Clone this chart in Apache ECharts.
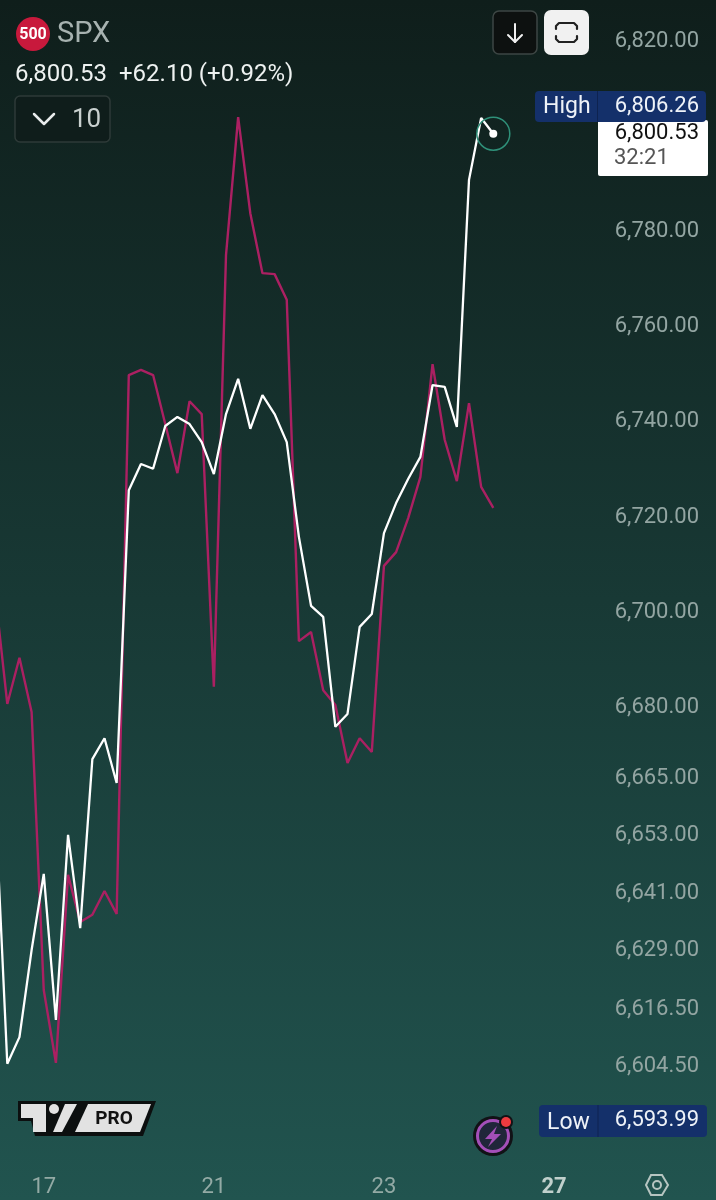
<!DOCTYPE html>
<html><head><meta charset="utf-8">
<style>html,body{margin:0;padding:0;background:#0f1f1c}#c{width:716px;height:1200px}</style>
<script src="https://cdn.jsdelivr.net/npm/echarts@6/dist/echarts.min.js"></script>
</head><body><div id="c"></div>
<script>
const seriesMagenta = [6703.5,6680.2,6689.9,6678.5,6620.1,6604.8,6644.3,6634.4,6635.9,6640.9,6636.1,6749.3,6750.4,6749.3,6739,6728.7,6743.8,6741.1,6683.8,6774.5,6803.5,6783.3,6770.7,6770.5,6765.1,6693.4,6695.3,6683.1,6680,6667.8,6673,6670.1,6709.2,6712.1,6719.3,6727.9,6751.6,6735.7,6727,6743.4,6725.8,6721.4];
const seriesWhite = [6660,6604.6,6610.2,6628.5,6644.5,6613.8,6652.7,6633.1,6668.6,6673,6663.6,6725.1,6730.6,6729.6,6738.6,6740.5,6739,6735.2,6728.5,6741.1,6748.5,6738,6745.1,6741.1,6735.2,6715.3,6700.8,6698.5,6675.4,6678.1,6696.4,6699.1,6716.1,6722.4,6727.5,6732.1,6747.2,6746.8,6738.4,6790.3,6803.3,6800];
const yTicks = [6820,6780,6760,6740,6720,6700,6680,6665,6653,6641,6629,6616.5,6604.5];
const dayLabels = {4:'17',18:'21',32:'23',46:'27'};
const categoryCount = 60;
const categories = Array.from({length:categoryCount},(_,i)=>dayLabels[i]||'');
const lastIdx = seriesWhite.length-1;
const FONT = 'Roboto, sans-serif';
const fg = (t,x,y,size,color,extra)=>({type:'text',z:100,style:Object.assign({text:t,x:x,y:y,font:`${size}px ${FONT}`,fill:color,textVerticalAlign:'middle'},extra||{})});
const rect=(x,y,w,h,r,fill,stroke)=>({type:'rect',z:90,shape:{x,y,width:w,height:h,r},style:{fill,stroke:stroke||null,lineWidth:stroke?1.5:0}});
const poly=(points,fill,z)=>({type:'polygon',z:z||91,shape:{points},style:{fill}});
const pl=(points,stroke,w)=>({type:'polyline',z:95,shape:{points},style:{stroke,lineWidth:w,fill:null,lineCap:'round',lineJoin:'round'}});
const circ=(cx,cy,r,fill,stroke,w)=>({type:'circle',z:92,shape:{cx,cy,r},style:{fill,stroke:stroke||null,lineWidth:w||0}});
const graphics=[
  circ(33,34,17,'#c8193c'),
  fg('500',33,35,16,'#fff',{textAlign:'center',font:`bold 16px ${FONT}`}),
  fg('SPX',57,35,29,'#a7b2b0'),
  fg('6,800.53',15,75,24,'#eef2f1'),
  fg('+62.10 (+0.92%)',119,75,24,'#eef2f1'),
  rect(15,96,95,46,5,'#0f1d1b','#2e3a38'),
  pl([[34,114],[44,124],[54,114]],'#e8ecec',2.5),
  fg('10',72,120,26,'#c9d0cf'),
  rect(493,11,44,43,6,'#0d1110','#3d4644'),
  pl([[515,24],[515,42]],'#f0f0f0',2),
  pl([[508,35],[515,42],[522,35]],'#f0f0f0',2),
  rect(544,10,45,45,7,'#f1f1f1'),
  pl([[556,29],[556,26],[559,23],[574,23],[577,26],[577,29]],'#222',2.2),
  pl([[556,36],[556,39],[559,42],[574,42],[577,39],[577,36]],'#222',2.2),
  rect(598,120,110,56,2,'#ffffff'),
  rect(535,91,171,31,4,'#14306a'),
  {type:'line',z:93,shape:{x1:597.5,y1:91,x2:597.5,y2:122},style:{stroke:'#0e2350',lineWidth:1}},
  fg('High',543,107,23,'#eef2f8'),
  fg('6,806.26',699,106,22,'#eef2f8',{textAlign:'right'}),
  fg('6,800.53',699,133,22,'#111',{textAlign:'right'}),
  fg('32:21',614,158,22,'#555',{}),
  rect(539,1105,168,32,4,'#14306a'),
  {type:'line',z:93,shape:{x1:598,y1:1105,x2:598,y2:1137},style:{stroke:'#0e2350',lineWidth:1}},
  fg('Low',547,1123,23,'#eef2f8'),
  fg('6,593.99',699,1120,22,'#eef2f8',{textAlign:'right'}),
  // TradingView PRO badge
  poly([[18,1101],[156,1101],[143,1136],[35,1136],[31,1121],[18,1121]],'#0c0f0f'),
  poly([[21,1104],[46,1104],[46,1132],[33,1132],[33,1118],[21,1118]],'#e2e2e2',92),
  circ(54,1109,5,'#e2e2e2'),
  poly([[65,1104],[77,1104],[62,1132],[53,1132]],'#e2e2e2',92),
  poly([[88,1104],[151,1104],[140,1132],[75,1132]],'#e2e2e2',92),
  fg('PRO',114,1119,19,'#111',{textAlign:'center',font:`bold 19px ${FONT}`}),
  // bolt badge
  circ(493,1136,20,'#111216'),
  circ(493,1136,15.5,'#20263a','#a44fb8',3),
  poly([[497,1126],[485,1139],[492,1139],[488,1147],[501,1134],[494,1134]],'#a44fb8',93),
  circ(506,1122,7,'#111216'),
  circ(506,1122,5,'#ee3b3f'),
  // settings
  {type:'polygon',z:92,shape:{points:[[646,1185],[651,1175],[662,1175],[668,1185],[662,1195],[651,1195]]},style:{fill:null,stroke:'#b6c5c1',lineWidth:2}},
  circ(657,1185,4,null,'#b6c5c1',2)
];
const chart = echarts.init(document.getElementById('c'),null,{renderer:'canvas'});
chart.setOption({
  animation:false,
  backgroundColor:new echarts.graphic.LinearGradient(0,0,0,1,[
    {offset:0,color:'#0f1e1b'},{offset:0.5,color:'#183935'},{offset:1,color:'#21544f'}]),
  grid:{left:-4.85,width:716.85,top:38.5,height:1094.8,containLabel:false,outerBoundsMode:'none'},
  xAxis:{type:'category',boundaryGap:false,data:categories,
    axisLine:{show:false},axisTick:{show:false},splitLine:{show:false},
    axisLabel:{interval:0,margin:43,formatter:v=>v==='27'?'{b|27}':v,color:'#93aaa5',fontFamily:FONT,fontSize:22,
      rich:{b:{color:'#c0d0cc',fontFamily:FONT,fontSize:22,fontWeight:'bold'}}}},
  yAxis:{type:'value',position:'right',min:6590,max:6820,scale:true,
    axisLine:{show:false},axisTick:{show:false},splitLine:{show:false},
    axisLabel:{inside:true,margin:13,showMinLabel:true,showMaxLabel:true,customValues:yTicks,verticalAlign:'top',lineHeight:5,
      formatter:v=>v.toLocaleString('en-US',{minimumFractionDigits:2,maximumFractionDigits:2}),
      color:'#93a5a2',fontFamily:FONT,fontSize:22}},
  series:[
    {type:'line',name:'Magenta',data:seriesMagenta,symbol:'none',z:2,lineStyle:{color:'#ab2062',width:2.4},silent:true},
    {type:'line',name:'SPX',data:seriesWhite,symbol:'none',z:3,lineStyle:{color:'#ffffff',width:2.3},silent:true,
      markPoint:{silent:true,label:{show:false},data:[
        {coord:[lastIdx,seriesWhite[lastIdx]],symbol:'circle',symbolSize:33,itemStyle:{color:'rgba(0,0,0,0)',borderColor:'#2f9079',borderWidth:1.5}},
        {coord:[lastIdx,seriesWhite[lastIdx]],symbol:'circle',symbolSize:8,itemStyle:{color:'#ffffff'}}
      ]}}
  ],
  graphic:graphics
});
</script></body></html>
